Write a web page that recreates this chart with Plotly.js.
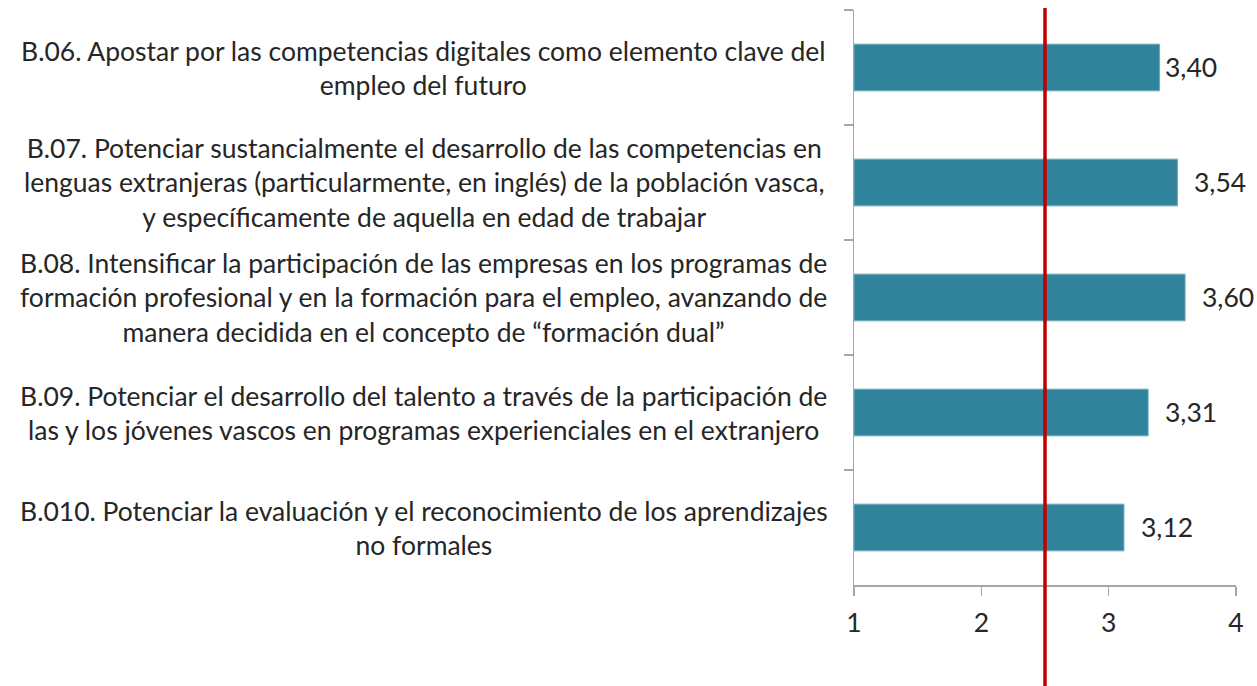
<!DOCTYPE html>
<html>
<head>
<meta charset="utf-8">
<script src="https://cdn.plot.ly/plotly-3.0.1.min.js"></script>
<style>html,body{margin:0;padding:0;background:#fff;}#chart{width:1257px;height:686px;}</style>
</head>
<body>
<div id="chart"></div>
<script>
const categories = ["B.06", "B.07", "B.08", "B.09", "B.010"];
const labels = [
  "B.06. Apostar por las competencias digitales como elemento clave del<br>empleo del futuro",
  "B.07. Potenciar sustancialmente el desarrollo de las competencias en<br>lenguas extranjeras (particularmente, en inglés) de la población vasca,<br>y específicamente de aquella en edad de trabajar",
  "B.08. Intensificar la participación de las empresas en los programas de<br>formación profesional y en la formación para el empleo, avanzando de<br>manera decidida en el concepto de “formación dual”",
  "B.09. Potenciar el desarrollo del talento a través de la participación de<br>las y los jóvenes vascos en programas experienciales en el extranjero",
  "B.010. Potenciar la evaluación y el reconocimiento de los aprendizajes<br>no formales"
];
const values = [3.40, 3.54, 3.60, 3.31, 3.12];
const referenceLine = 2.5;
const xTicks = [1, 2, 3, 4];

const FONT = "Lato, 'Noto Sans', sans-serif";
const FS = 26.5;
const TXT = "#262626";
const AXIS_MIN = 1;

const trace = {
  type: "bar",
  orientation: "h",
  y: categories,
  x: values.map(v => v - AXIS_MIN),
  base: AXIS_MIN,
  marker: {color: "#31849B", line: {color: "#6aaabb", width: 1}},
  hoverinfo: "skip"
};

const labelAnnotations = categories.map((c, i) => ({
  xref: "paper", yref: "y", x: -1.1257, y: c,
  xanchor: "center", yanchor: "middle", align: "center",
  text: labels[i], showarrow: false,
  font: {family: FONT, size: FS, color: TXT}
}));

// gap between bar end and its value label (Excel placement)
const valueGap = (i) => (i === 0 ? 3 : 15);
const valueAnnotations = categories.map((c, i) => ({
  xref: "x", yref: "y", x: values[i], y: c,
  xanchor: "left", yanchor: "middle", xshift: valueGap(i), yshift: 1,
  text: values[i].toFixed(2).replace(".", ","), showarrow: false,
  font: {family: FONT, size: FS, color: TXT}
}));

const layout = {
  width: 1257, height: 686,
  margin: {l: 854, r: 21, t: 10, b: 101, pad: 0},
  paper_bgcolor: "#ffffff", plot_bgcolor: "#ffffff",
  separators: ",.",
  showlegend: false,
  bargap: 0.594,
  font: {family: FONT, size: FS, color: TXT},
  xaxis: {
    range: [1, 4], tickvals: xTicks, ticktext: xTicks.map(String),
    showgrid: false, zeroline: false,
    showline: true, linecolor: "#a6a6a6", linewidth: 1.5,
    ticks: "outside", ticklen: 9, tickcolor: "#a6a6a6", tickwidth: 1.5,
    ticklabelstandoff: 5,
    tickfont: {family: FONT, size: FS, color: TXT},
    fixedrange: true
  },
  yaxis: {
    type: "category", autorange: "reversed",
    showgrid: false, zeroline: false,
    showline: true, linecolor: "#a6a6a6", linewidth: 1.5,
    ticks: "outside", tickson: "boundaries", ticklen: 9, tickcolor: "#a6a6a6", tickwidth: 1.5,
    showticklabels: false, fixedrange: true
  },
  shapes: [{
    type: "line", xref: "x", yref: "paper",
    x0: referenceLine, x1: referenceLine, y0: -0.2, y1: 1.0035,
    line: {color: "#C00000", width: 3.5}
  }],
  annotations: labelAnnotations.concat(valueAnnotations)
};

Plotly.newPlot("chart", [trace], layout, {displayModeBar: false, staticPlot: true});
</script>
</body>
</html>
